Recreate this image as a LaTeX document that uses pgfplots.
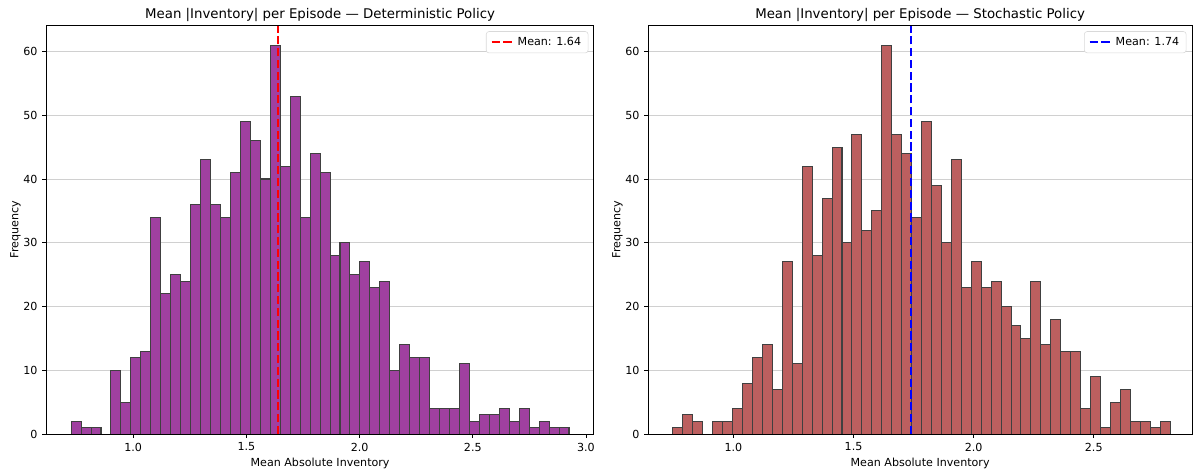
\documentclass[border=0pt]{standalone}
\usepackage{pgfplots}
\pgfplotsset{compat=1.18}
\usepackage{fontspec}
\setmainfont{DejaVu Sans}
\definecolor{purplebar}{RGB}{160,64,160}
\definecolor{brownbar}{RGB}{188,95,95}
\definecolor{edgecol}{RGB}{64,64,64}
\definecolor{gridgray}{RGB}{208,208,208}
\pgfplotsset{
  histax/.style={
    scale only axis,
    width=394.3pt, height=294pt,
    ymin=0, ymax=64.05,
    ytick={0,10,20,30,40,50,60},
    ymajorgrids,
    major grid style={gridgray, line width=0.7pt},
    axis line style={black, line width=0.65pt},
    tick align=outside,
    tick pos=left,
    major tick length=2.8pt,
    tick style={black, line width=0.65pt},
    tick label style={font=\fontsize{8}{9.6}\selectfont},
    /pgf/number format/assume math mode=true,
    xticklabel style={/pgf/number format/.cd, fixed, fixed zerofill, precision=1},
    title style={font=\fontsize{9.6}{11.5}\selectfont, yshift=-6.7pt},
    label style={font=\fontsize{8}{9.6}\selectfont},
    xlabel={Mean Absolute Inventory},
    xlabel style={yshift=2pt},
    ylabel={Frequency},
    ylabel style={yshift=-5pt},
    legend cell align=left,
    legend style={at={(1,1)}, anchor=north east, xshift=-4pt, yshift=-4pt,
      draw=gray!30, rounded corners=2pt, fill=white,
      font=\fontsize{8}{9.6}\selectfont, inner xsep=3pt, inner ysep=2pt},
    legend image code/.code={\draw[#1] (0pt,0pt) -- (16pt,0pt);},
    after end axis/.code={\draw[black, line width=0.65pt] (rel axis cs:0,0) rectangle (rel axis cs:1,1);},
  }
}
\begin{document}
\begin{tikzpicture}
\useasboundingbox (-33.3pt,-29.5pt) rectangle (827.8pt,312.5pt);
\begin{axis}[histax, at={(0pt,0pt)}, anchor=south west,
  xmin=0.616, xmax=3.035,
  xtick={1.0,1.5,2.0,2.5,3.0},
  title={Mean |Inventory| per Episode — Deterministic Policy}]
\addplot[ybar interval, fill=purplebar, draw=edgecol, line width=0.75pt, forget plot] coordinates {
(0.7260,2) (0.7700,1) (0.8140,1) (0.8579,0) (0.9019,10) (0.9459,5) (0.9899,12) (1.0339,13) (1.0778,34) (1.1218,22)
(1.1658,25) (1.2098,24) (1.2538,36) (1.2977,43) (1.3417,36) (1.3857,34) (1.4297,41) (1.4737,49) (1.5176,46) (1.5616,40)
(1.6056,61) (1.6496,42) (1.6936,53) (1.7375,34) (1.7815,44) (1.8255,41) (1.8695,28) (1.9135,30) (1.9574,25) (2.0014,27)
(2.0454,23) (2.0894,24) (2.1334,10) (2.1773,14) (2.2213,12) (2.2653,12) (2.3093,4) (2.3533,4) (2.3972,4) (2.4412,11)
(2.4852,2) (2.5292,3) (2.5732,3) (2.6171,4) (2.6611,2) (2.7051,4) (2.7491,1) (2.7931,2) (2.8370,1) (2.8810,1)
(2.9250,1)
};
\addplot[red, line width=1.6pt, dash pattern=on 5.9pt off 2.6pt] coordinates {(1.64,0) (1.64,64.05)};
\addlegendentry{Mean: 1.64}
\end{axis}
\begin{axis}[histax, at={(433.4pt,0pt)}, anchor=south west,
  width=391.5pt,
  xmin=0.645, xmax=2.909,
  xtick={1.0,1.5,2.0,2.5},
  title={Mean |Inventory| per Episode — Stochastic Policy}]
\addplot[ybar interval, fill=brownbar, draw=edgecol, line width=0.75pt, forget plot] coordinates {
(0.7480,1) (0.7894,3) (0.8308,2) (0.8722,0) (0.9136,2) (0.9550,2) (0.9964,4) (1.0378,8) (1.0792,12) (1.1206,14)
(1.1620,7) (1.2034,27) (1.2448,11) (1.2862,42) (1.3276,28) (1.3690,37) (1.4104,45) (1.4518,30) (1.4932,47) (1.5346,32)
(1.5760,35) (1.6174,61) (1.6588,47) (1.7002,44) (1.7416,34) (1.7830,49) (1.8244,39) (1.8658,30) (1.9072,43) (1.9486,23)
(1.9900,27) (2.0314,23) (2.0728,24) (2.1142,20) (2.1556,17) (2.1970,15) (2.2384,24) (2.2798,14) (2.3212,18) (2.3626,13)
(2.4040,13) (2.4454,4) (2.4868,9) (2.5282,1) (2.5696,5) (2.6110,7) (2.6524,2) (2.6938,2) (2.7352,1) (2.7766,2)
(2.8180,2)
};
\addplot[blue, line width=1.6pt, dash pattern=on 5.9pt off 2.6pt] coordinates {(1.74,0) (1.74,64.05)};
\addlegendentry{Mean: 1.74}
\end{axis}
\end{tikzpicture}
\end{document}
